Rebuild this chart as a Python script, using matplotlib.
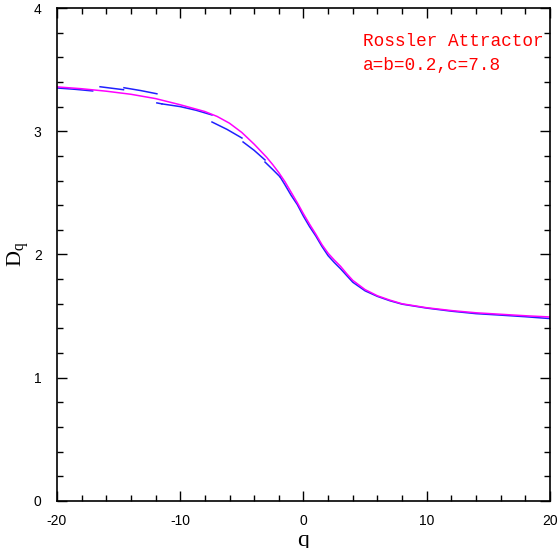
import numpy as np
import matplotlib
matplotlib.use("Agg")
import matplotlib.pyplot as plt
from matplotlib.ticker import MultipleLocator

plt.rcParams['axes.unicode_minus'] = False

# magenta curve (smooth fit)
fit_q = [-20, -18, -16, -14, -12, -10, -8, -7, -6, -5, -4, -3, -2.5, -2, -1.5, -1, -0.5, 0,
         0.5, 1, 1.5, 2, 2.5, 3, 3.5, 4, 5, 6, 7, 8, 10, 12, 14, 16, 18, 20]
fit_d = [3.36, 3.345, 3.325, 3.30, 3.265, 3.215, 3.16, 3.12, 3.065, 2.99, 2.895, 2.79, 2.73, 2.664, 2.59,
         2.505, 2.42, 2.33, 2.245, 2.165, 2.08, 2.01, 1.955, 1.905, 1.845, 1.79, 1.715, 1.665, 1.63,
         1.60, 1.568, 1.545, 1.527, 1.515, 1.503, 1.493]

# blue estimates, piece by piece
seg_q = [
    [-20.0, -18.5, -17.1],
    [-16.5, -14.6],
    [-14.56, -13.2, -11.89],
    [-11.89, -11.48],
    [-11.48, -10.0, -8.7, -7.42],
    [-7.42, -6.2, -4.99],
    [-4.9, -4.0, -3.12],
    [-3.12, -2.5, -1.9],
    [-1.9, -1.5, -1.0, -0.5, 0, 0.5, 1, 1.5, 2, 2.5, 3, 3.5, 4, 5, 6, 7, 8, 10, 12, 14, 16, 18, 20],
]
seg_d = [
    [3.351, 3.34, 3.327],
    [3.361, 3.337],
    [3.353, 3.33, 3.304],
    [3.230, 3.222],
    [3.222, 3.20, 3.17, 3.132],
    [3.075, 3.015, 2.945],
    [2.913, 2.845, 2.767],
    [2.75, 2.69, 2.63],
    [2.63, 2.565, 2.48, 2.405, 2.31, 2.225, 2.15, 2.065, 1.99, 1.935, 1.885, 1.83, 1.775,
     1.705, 1.66, 1.625, 1.597, 1.565, 1.54, 1.52, 1.508, 1.495, 1.48],
]

fig = plt.figure(figsize=(5.58, 5.48), dpi=100)
ax = fig.add_axes([0.102, 0.0858, 0.8837, 0.8996])

for q, d in zip(seg_q, seg_d):
    ax.plot(q, d, color='#2020ff', lw=1.1)
ax.plot(fit_q, fit_d, color='#ff00ff', lw=1.1)

ax.set_xlim(-20, 20)
ax.set_ylim(0, 4)
ax.xaxis.set_major_locator(MultipleLocator(10))
ax.xaxis.set_minor_locator(MultipleLocator(2))
ax.yaxis.set_major_locator(MultipleLocator(1))
ax.yaxis.set_minor_locator(MultipleLocator(0.2))
ax.tick_params(which='both', direction='in', top=True, right=True, width=1,
               labelsize=10)
ax.tick_params(axis='x', pad=9.5)
ax.tick_params(axis='y', pad=11)
ax.tick_params(which='major', length=7)
ax.tick_params(which='minor', length=4)
for lab in ax.get_xticklabels() + ax.get_yticklabels():
    lab.set_family('Liberation Sans')
for s in ax.spines.values():
    s.set_linewidth(1.2)

ax.set_xlabel('q', family='Liberation Serif', fontsize=17)
ax.xaxis.set_label_coords(0.5, -0.058)
ax.set_ylabel('D$_\\mathregular{q}$', family='Liberation Serif', fontsize=16,
              rotation=90, va='center', ha='center')
ax.yaxis.set_label_coords(-0.076, 0.5)

ax.text(0.62, 0.923, 'Rossler Attractor', transform=ax.transAxes, color='red',
        family='Liberation Mono', fontsize=12.8)
ax.text(0.62, 0.874, 'a=b=0.2,c=7.8', transform=ax.transAxes, color='red',
        family='Liberation Mono', fontsize=12.8)

fig.savefig('out.png', dpi=100)
